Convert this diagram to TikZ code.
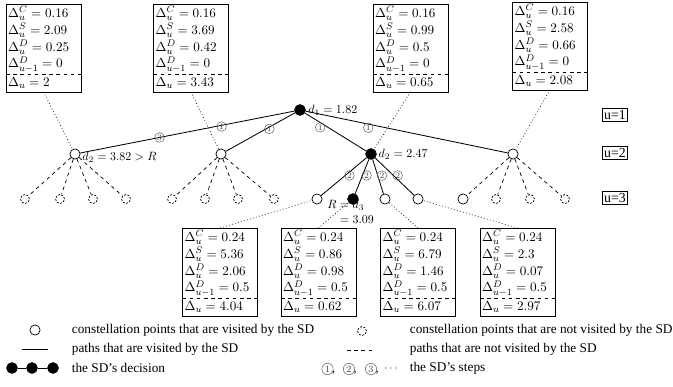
\documentclass[tikz,border=0pt]{standalone}
\usepackage{fontspec}
\setmainfont{Liberation Serif}
\usetikzlibrary{positioning}

\newcommand{\costbox}[7]{%
  \node[boxtop] (#1) at #2 {$\Delta_u^C = #3$\\$\Delta_u^S = #4$\\$\Delta_u^D = #5$\\$\Delta_{u-1}^D = #6$};
  \node[boxsum, below=0pt of #1] (#1sum) {$\Delta_u = #7$};
  \draw (#1.north west) rectangle (#1sum.south east);
  \draw[dashed] (#1.south west) -- (#1.south east);
}

\begin{document}
\setlength{\lineskiplimit}{-20pt}
\begin{tikzpicture}[
  x=0.8333pt, y=-0.8333pt,
  line width=0.6pt,
  vis/.style={circle, draw, fill=white, minimum size=8.5pt, inner sep=0pt},
  unvis/.style={circle, draw, dash pattern=on 1.6pt off 1.3pt, minimum size=7.5pt, inner sep=0pt},
  dec/.style={circle, draw, fill=black, minimum size=9pt, inner sep=0pt},
  seen/.style={draw, line width=0.7pt},
  unseen/.style={draw, dashed},
  link/.style={draw, dotted, line width=0.6pt},
  stepnum/.style={circle, draw=black!65, line width=0.4pt, minimum size=8pt, inner sep=0pt, text=black!75, font=\fontsize{7}{7}\selectfont},
  stepkey/.style={stepnum, minimum size=9.5pt, font=\fontsize{8}{8}\selectfont},
  boxtop/.style={anchor=north, text width=59pt, inner sep=1.5pt, align=left, font=\fontsize{11}{14}\selectfont},
  boxsum/.style={text width=59pt, inner sep=1.5pt, minimum height=14pt, align=left, font=\fontsize{11}{14}\selectfont},
  level/.style={draw, inner sep=1.4pt, font=\fontsize{11.5}{13}\selectfont},
  val/.style={font=\fontsize{10}{12.5}\selectfont},
  legtext/.style={anchor=west, font=\fontsize{11.1}{13}\selectfont}
]
  \useasboundingbox (0,0) rectangle (673,386);

  % tree
  \node[dec] (r) at (300,110) {};
  \node[vis] (a) at (75,154) {};
  \node[vis] (b) at (221,154) {};
  \node[dec] (c) at (371,154) {};
  \node[vis] (d) at (513,154) {};

  \foreach \x [count=\i] in {25,60,93,126}
    \node[unvis] (a\i) at (\x,199) {};
  \foreach \x [count=\i] in {172,205,238,274}
    \node[unvis] (b\i) at (\x,199) {};
  \node[vis] (c1) at (317,199) {};
  \node[dec] (c2) at (353,199) {};
  \node[vis] (c3) at (385,199) {};
  \node[vis] (c4) at (418,199) {};
  \node[vis] (d1) at (463,199) {};
  \foreach \x [count=\i from 2] in {496,530,565}
    \node[unvis] (d\i) at (\x,199) {};

  \foreach \n in {a,b,c,d}
    \draw[seen] (r) -- (\n);
  \foreach \i in {1,...,4} {
    \draw[unseen] (a) -- (a\i);
    \draw[unseen] (b) -- (b\i);
    \draw[seen] (c) -- (c\i);
    \draw[unseen] (d) -- (d\i);
  }

  % steps
  \path (r) -- (a) node[stepnum, pos=0.34, yshift=-1pt] {$1$} node[stepnum, pos=0.63] {$3$};
  \path (r) -- (b) node[stepnum, pos=0.37, yshift=-1.5pt] {$1$};
  \path (r) -- (c) node[stepnum, pos=0.25, yshift=-4pt] {$1$};
  \path (r) -- (d) node[stepnum, pos=0.31, yshift=-3pt] {$1$};
  \foreach \i in {1,...,4}
    \path (c) -- (c\i) node[stepnum, pos=0.47, xshift=3.5pt] {$2$};

  % values
  \node[val, right=-1.5pt of r] (d1val) {$d_1 = 1.82$};
  \node[val, right=-2pt of a, yshift=-3pt] (d2val) {$d_2 = 3.82 > R$};
  \node[val, right=-2pt of c] (d2bval) {$d_2 = 2.47$};
  \node[val, align=left, anchor=north west, xshift=-25pt, yshift=2.5pt] (d3val) at (c2.center) {$R = d_3$\\$\phantom{R}= 3.09$};

  % levels
  \node[level] (u1) at (615,115) {u=1};
  \node[level] (u2) at (615,153) {u=2};
  \node[level] (u3) at (615,198) {u=3};

  % cost boxes
  \costbox{box1}{(43.5,4)}{0.16}{2.09}{0.25}{0}{2}
  \costbox{box2}{(191,4)}{0.16}{3.69}{0.42}{0}{3.43}
  \costbox{box3}{(410.5,4)}{0.16}{0.99}{0.5}{0}{0.65}
  \costbox{box4}{(550,2)}{0.16}{2.58}{0.66}{0}{2.08}
  \costbox{box5}{(220,228)}{0.24}{5.36}{2.06}{0.5}{4.04}
  \costbox{box6}{(318.5,228)}{0.24}{0.86}{0.98}{0.5}{0.62}
  \costbox{box7}{(418,228)}{0.24}{6.79}{1.46}{0.5}{6.07}
  \costbox{box8}{(517.5,228)}{0.24}{2.3}{0.07}{0.5}{2.97}

  \draw[link] (box1sum.south) -- (a);
  \draw[link] (box2sum.south) -- (b);
  \draw[link] (box3sum.south) -- (c);
  \draw[link] (box4sum.south) -- (d);
  \draw[link] (box5.north) -- (c1);
  \draw[link] (box6.north) -- (c2);
  \draw[link] (box7.north) -- (c3);
  \draw[link] (box8.north) -- (c4);

  % legend
  \node[vis] (lg1) at (35,330) {};
  \node[legtext] (lt1) at (67.5,330) {constellation points that are visited by the SD};
  \coordinate (l2a) at (22,349);
  \coordinate (l2b) at (48,349);
  \draw[seen] (l2a) -- (l2b);
  \node[legtext] (lt2) at (67.5,349) {paths that are visited by the SD};
  \node[dec] (ch1) at (12,368) {};
  \node[dec] (ch2) at (32,368) {};
  \node[dec] (ch3) at (53,368) {};
  \draw[seen] (ch1) -- (ch2) -- (ch3);
  \node[legtext] (lt3) at (67.5,368) {the SD’s decision};

  \node[unvis] (lg4) at (362,331) {};
  \node[legtext] (lt4) at (405.5,330) {constellation points that are not visited by the SD};
  \coordinate (l5a) at (347,350);
  \coordinate (l5b) at (375,350);
  \draw[unseen] (l5a) -- (l5b);
  \node[legtext] (lt5) at (405.5,349) {paths that are not visited by the SD};
  \node[stepkey] (k1) at (327.5,369) {$1$};
  \node[stepkey] (k2) at (349,369) {$2$};
  \node[stepkey] (k3) at (371,369) {$3$};
  \node[inner sep=0pt, anchor=west] (kc1) at (k1.south east) {,};
  \node[inner sep=0pt, anchor=west] (kc2) at (k2.south east) {,};
  \node[inner sep=0pt, anchor=west] (kc3) at (k3.south east) {,};
  \node[inner sep=0pt, text=black!75] (kdots) at (391,369) {$\cdots$};
  \node[legtext] (lt6) at (405.5,368) {the SD’s steps};
\end{tikzpicture}
\end{document}
